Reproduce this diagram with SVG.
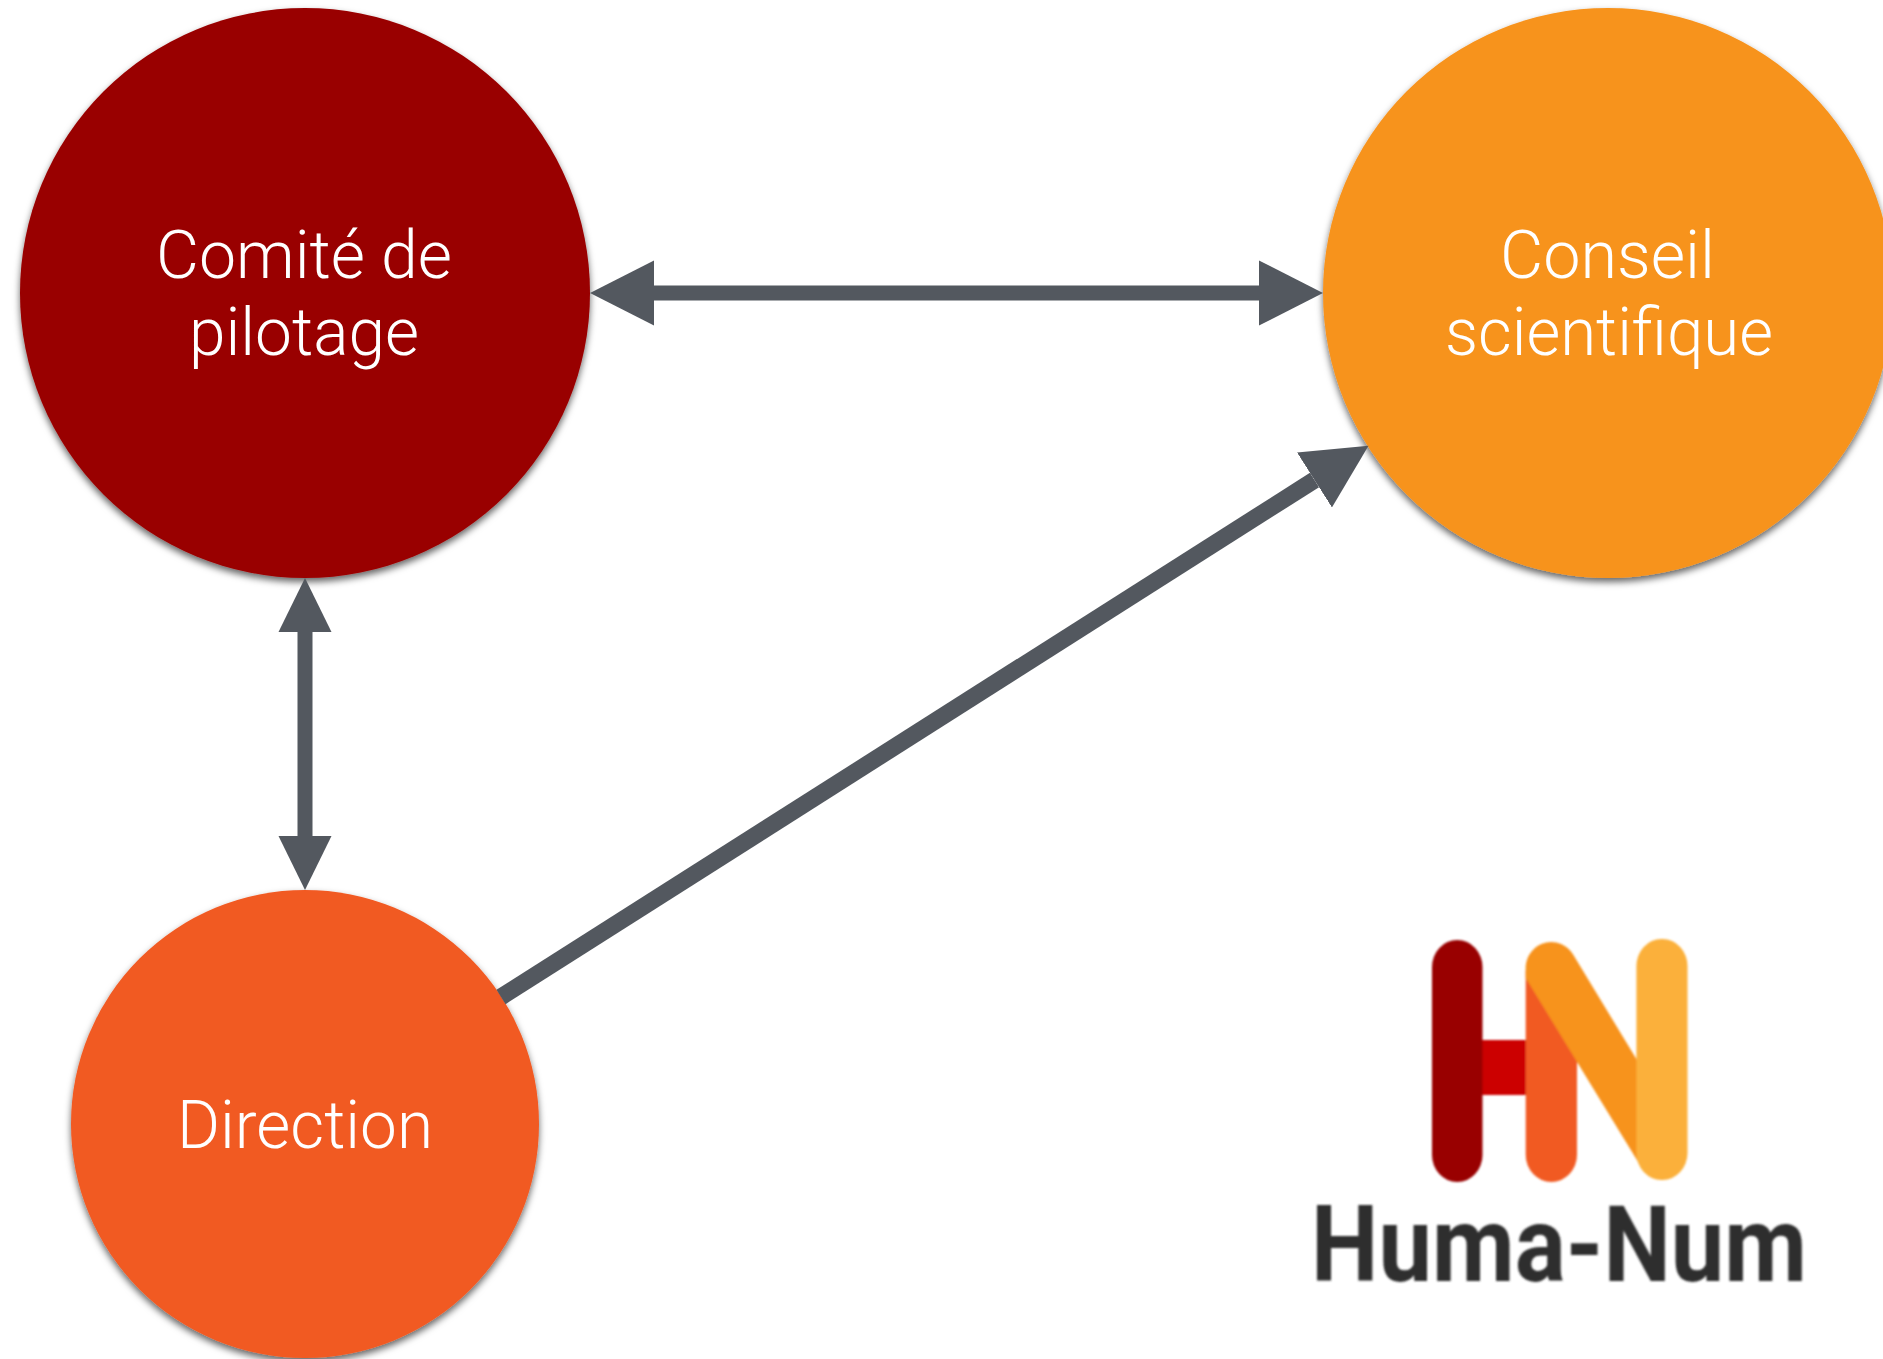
<svg xmlns="http://www.w3.org/2000/svg" width="1883" height="1359" viewBox="0 0 1883 1359">
<style>
.lbl{font-family:"Roboto","Liberation Sans",sans-serif;font-weight:300;font-size:66px;fill:#fff;text-anchor:start}
.conn{stroke:#53585f;stroke-width:15;fill:none}
.circ{filter:url(#sh)}
</style>
<defs>
<filter id="sh" x="-10%" y="-10%" width="120%" height="120%"><feDropShadow dx="0" dy="4" stdDeviation="3.500" flood-color="#000" flood-opacity="0.6"/></filter>
<filter id="bl" x="-5%" y="-5%" width="110%" height="110%"><feGaussianBlur stdDeviation="0.8"/></filter>
<marker id="hL" markerUnits="userSpaceOnUse" markerWidth="65" markerHeight="66" refX="0" refY="33" orient="auto-start-reverse"><path d="M0 0.5L64 33L0 65.5Z" fill="#53585f"/></marker>
<marker id="hS" markerUnits="userSpaceOnUse" markerWidth="55" markerHeight="54" refX="0" refY="27" orient="auto-start-reverse"><path d="M0 0.5L54 27L0 53.5Z" fill="#53585f"/></marker>
</defs>
<rect width="1883" height="1359" fill="#fff"/>
<g id="comite"><circle class="circ" cx="305" cy="293" r="285" fill="#990000"/>
<text class="lbl" x="156" y="278" textLength="296" lengthAdjust="spacingAndGlyphs">Comité de</text>
<text class="lbl" x="189" y="355" textLength="230" lengthAdjust="spacingAndGlyphs">pilotage</text></g>
<g id="conseil"><circle class="circ" cx="1608" cy="293" r="285" fill="#f7931e"/>
<text class="lbl" x="1500" y="278" textLength="215" lengthAdjust="spacingAndGlyphs">Conseil</text>
<text class="lbl" x="1445" y="355" textLength="328" lengthAdjust="spacingAndGlyphs">scientifique</text></g>
<g id="direction"><circle class="circ" cx="305" cy="1124" r="234" fill="#f15a24"/>
<text class="lbl" x="177" y="1148" textLength="256" lengthAdjust="spacingAndGlyphs">Direction</text></g>
<g id="connectors">
<line class="conn" x1="654" y1="293" x2="1259" y2="293" marker-start="url(#hL)" marker-end="url(#hL)"/>
<line class="conn" x1="305" y1="632" x2="305" y2="836" marker-start="url(#hS)" marker-end="url(#hS)"/>
<line class="conn" style="stroke-width:17" x1="501" y1="997" x2="1314.500" y2="480" marker-end="url(#hL)"/>
</g>
<g id="logo">
<g filter="url(#bl)">
<rect x="1482" y="1040" width="44" height="55" fill="#cc0000"/>
<rect x="1432" y="940" width="50.500" height="242" rx="25" ry="27" fill="#990000"/>
<path d="M1525.700 970L1577 1050V1155A25.650 27 0 0 1 1525.700 1155Z" fill="#f15a24"/>
<path d="M1525.700 978V966A25.600 26 0 0 1 1573.100 954.600L1637 1060V1157L1650 1178L1640 1165Z" fill="#f7931e"/>
<rect x="1636.400" y="939" width="51.100" height="241" rx="25" ry="27" fill="#fbb03b"/>
</g>
<text x="1311" y="1281" textLength="496" lengthAdjust="spacingAndGlyphs" font-family="Roboto,'Liberation Sans',sans-serif" font-weight="700" font-size="105" fill="#2e2e2e" filter="url(#bl)">Huma-Num</text>
</g>
</svg>
